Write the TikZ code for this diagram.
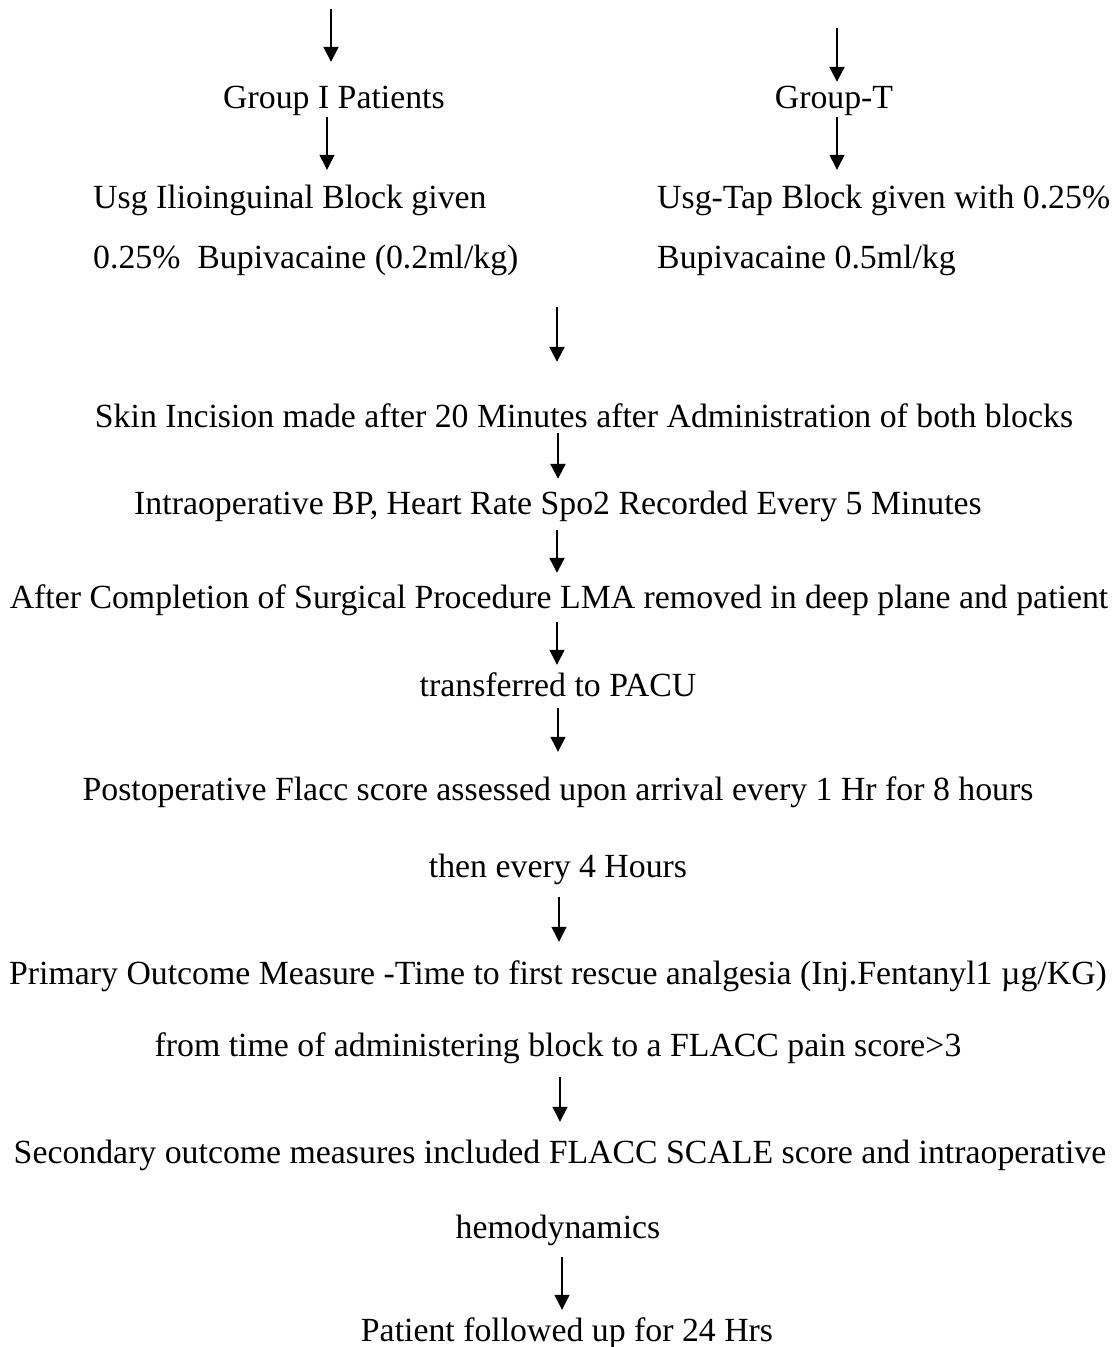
\documentclass[tikz,border=0pt]{standalone}
\usepackage{fontspec}
\setmainfont{Liberation Serif}
\usepackage{tikz}
\usetikzlibrary{arrows.meta}

\begin{document}
\begin{tikzpicture}[x=1pt, y=-1pt,
    step text/.style={inner sep=0pt, anchor=base, text height=23pt, text depth=7pt,
                      font=\fontsize{33.8}{40}\selectfont},
    left text/.style={step text, anchor=base west},
    arrow/.style={-{Triangle[length=15pt, width=15pt]}, line width=2.2pt, black},
    thin arrow/.style={arrow, line width=1.3pt}
]
    \useasboundingbox (0,0) rectangle (1117,1347);

    % Free arrow starts
    \coordinate (topL) at (331,9);
    \coordinate (topR) at (837,28);
    \coordinate (midtop) at (557,307);
    \coordinate (spine) at (557,0);

    % Two groups
    \node[step text] (grpI) at (334,108) {Group I Patients};
    \node[step text] (grpT) at (834,108) {Group-T};
    \node[left text] (usgL) at (93,208) {Usg Ilioinguinal Block given};
    \node[left text] (bupL) at (93,268) {0.25\%\ \ Bupivacaine (0.2ml/kg)};
    \node[left text] (usgR) at (657,208) {Usg-Tap Block given with 0.25\%};
    \node[left text] (bupR) at (657,268) {Bupivacaine 0.5ml/kg};

    % Main column
    \node[step text] (skin) at (584,427) {Skin Incision made after 20 Minutes after Administration of both blocks};
    \node[step text] (intra) at (558,514) {Intraoperative BP, Heart Rate Spo2 Recorded Every 5 Minutes};
    \node[step text] (after) at (559,608) {After Completion of Surgical Procedure LMA removed in deep plane and patient};
    \node[step text] (pacu) at (558,696) {transferred to PACU};
    \node[step text] (postop) at (558,800) {Postoperative Flacc score assessed upon arrival every 1 Hr for 8 hours};
    \node[step text] (then) at (558,877) {then every 4 Hours};
    \node[step text] (primary) at (558,984) {Primary Outcome Measure -Time to first rescue analgesia (Inj.Fentanyl1 µg/KG)};
    \node[step text] (from) at (558,1056) {from time of administering block to a FLACC pain score>3};
    \node[step text] (second) at (560,1163) {Secondary outcome measures included FLACC SCALE score and intraoperative};
    \node[step text] (hemo) at (558,1238) {hemodynamics};
    \node[step text] (patient) at (567,1341) {Patient followed up for 24 Hrs};

    % Arrows
    \draw[arrow, shorten >=23pt] (topL) -- (topL |- grpI.north);
    \draw[arrow, shorten >=3pt] (topR) -- (topR |- grpT.north);
    \draw[thin arrow, shorten <=2pt, shorten >=15pt] ([xshift=-7pt]grpI.south) -- ([xshift=-7pt]usgL.north -| grpI.south);
    \draw[thin arrow, shorten <=2pt, shorten >=15pt] (grpT.south -| topR) -- (usgR.north -| topR);
    \draw[arrow, shorten >=42pt] (midtop) -- (skin.north -| midtop);
    \draw[arrow, shorten <=-1pt, shorten >=12pt] ([xshift=1pt]skin.south -| spine) -- ([xshift=1pt]intra.north -| spine);
    \draw[arrow, shorten <=9pt, shorten >=12pt] (intra.south -| spine) -- (after.north -| spine);
    \draw[thin arrow, shorten <=7pt, shorten >=8pt] (after.south -| spine) -- (pacu.north -| spine);
    \draw[thin arrow, shorten <=5pt, shorten >=25pt] (pacu.south) -- (postop.north);
    \draw[thin arrow, shorten <=13pt, shorten >=19pt] ([xshift=1pt]then.south) -- ([xshift=1pt]primary.north);
    \draw[thin arrow, shorten <=14pt, shorten >=18pt] (from.south -| second) -- (second.north);
    \draw[thin arrow, shorten <=12pt, shorten >=8pt] ([xshift=4pt]hemo.south) -- ([xshift=4pt]patient.north -| hemo);
\end{tikzpicture}
\end{document}
